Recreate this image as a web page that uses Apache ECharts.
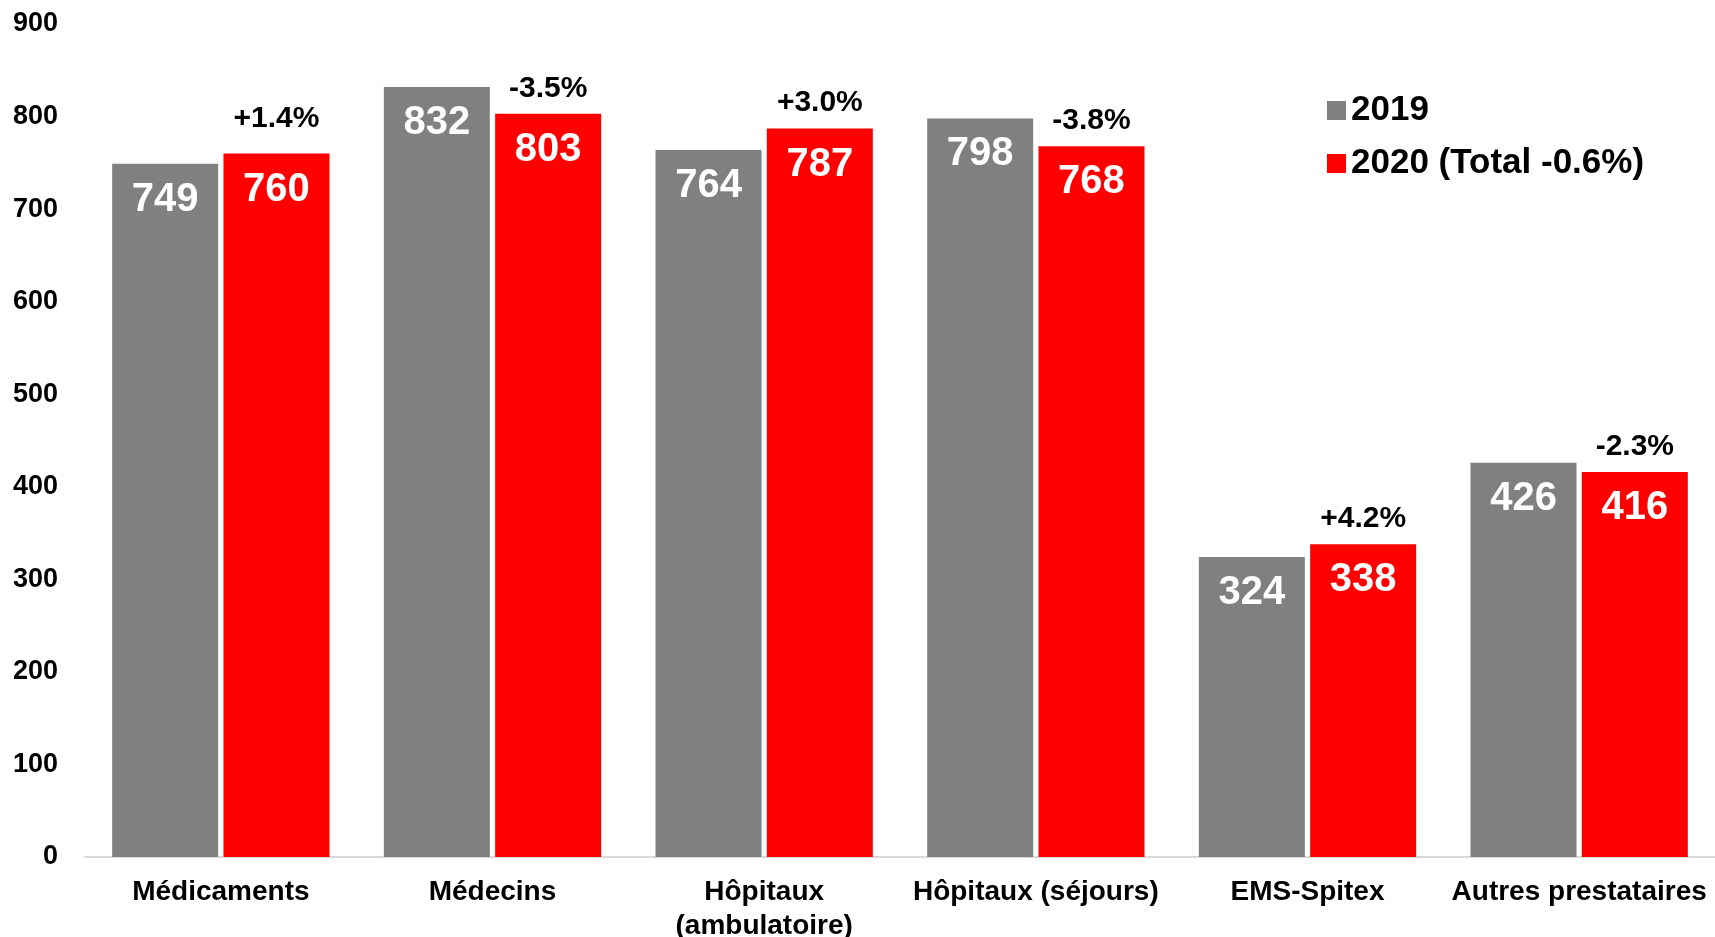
<!DOCTYPE html>
<html>
<head>
<meta charset="utf-8">
<script src="https://cdn.jsdelivr.net/npm/echarts@6/dist/echarts.min.js"></script>
<style>html,body{margin:0;padding:0;background:#fff}#c{width:1715px;height:937px}</style>
</head>
<body>
<div id="c"></div>
<script>
const categories = ['Médicaments', 'Médecins', 'Hôpitaux\n(ambulatoire)', 'Hôpitaux (séjours)', 'EMS-Spitex', 'Autres prestataires'];
const values2019 = [749, 832, 764, 798, 324, 426];
const values2020 = [760, 803, 787, 768, 338, 416];
const changes = ['+1.4%', '-3.5%', '+3.0%', '-3.8%', '+4.2%', '-2.3%'];
const yTicks = [0, 100, 200, 300, 400, 500, 600, 700, 800, 900];
const legendNames = ['2019', '2020 (Total -0.6%)'];

const FONT = 'Liberation Sans, Arial, sans-serif';
const chart = echarts.init(document.getElementById('c'));
chart.setOption({
  animation: false,
  textStyle: { fontFamily: FONT },
  grid: { left: 85, right: 0, top: 24, bottom: 80, containLabel: false, outerBoundsMode: 'none' },
  legend: {
    orient: 'vertical', left: 1322, top: 88,
    itemWidth: 19, itemHeight: 19, itemGap: 18,
    icon: 'rect',
    textStyle: { fontFamily: FONT, fontSize: 35, fontWeight: 'bold', color: '#000' },
    data: legendNames
  },
  xAxis: {
    type: 'category', data: categories,
    axisLine: { lineStyle: { color: '#d9d9d9', width: 2 } },
    axisTick: { show: false },
    axisLabel: { fontFamily: FONT, fontSize: 28, fontWeight: 'bold', color: '#000', margin: 18, lineHeight: 34, interval: 0 }
  },
  yAxis: {
    type: 'value', min: yTicks[0], max: yTicks[yTicks.length - 1], interval: 100,
    axisLine: { show: false }, axisTick: { show: false }, splitLine: { show: false },
    axisLabel: { fontFamily: FONT, fontSize: 27, fontWeight: 'bold', color: '#000', margin: 27 }
  },
  series: [
    {
      name: legendNames[0], type: 'bar', data: values2019,
      barCategoryGap: '20%', barGap: '5%',
      itemStyle: { color: '#808080' },
      label: { show: true, position: 'insideTop', distance: 16, color: '#fff', fontFamily: FONT, fontSize: 40, fontWeight: 'bold' }
    },
    {
      name: legendNames[1], type: 'bar', data: values2020,
      barCategoryGap: '20%', barGap: '5%',
      itemStyle: { color: '#ff0000' },
      label: { show: true, position: 'insideTop', distance: 16, color: '#fff', fontFamily: FONT, fontSize: 40, fontWeight: 'bold' },
      markPoint: {
        symbol: 'rect', symbolSize: 1,
        itemStyle: { color: 'rgba(0,0,0,0)' },
        label: { show: true, position: 'top', distance: 10, color: '#000', fontFamily: FONT, fontSize: 30, fontWeight: 'bold', formatter: p => p.name },
        data: changes.map((c, i) => ({ name: c, coord: [i, values2020[i]], label: i === 0 ? { distance: 19 } : undefined }))
      }
    }
  ]
});
</script>
</body>
</html>
